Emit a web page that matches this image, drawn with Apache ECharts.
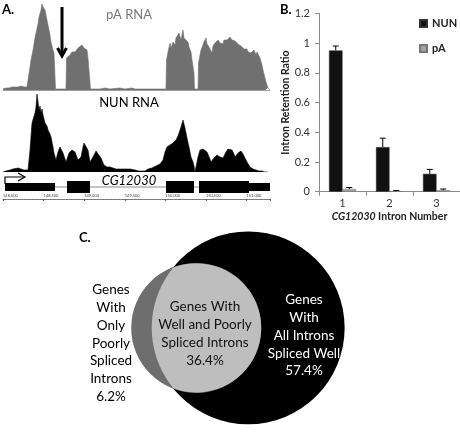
<!DOCTYPE html>
<html><head><meta charset="utf-8">
<script src="https://cdn.jsdelivr.net/npm/echarts@6/dist/echarts.min.js"></script>
<style>html,body{margin:0;padding:0;background:#fff}#c{width:460px;height:433px}</style>
</head><body><div id="c"></div>
<script>
// ---------- Panel A: read coverage (position along locus, read depth) ----------
const pACoverage = [[3,1],[6,2],[9,2],[12,3],[15,3],[18,3],[21,4],[24,3],[27,3],[29,3],[30,23],[31,30],[33,40],[35,52],[36,57],[38,66],[39,73],[41,80],[42,86],[43,83],[45,80],[47,70],[48,65],[50,55],[51,48],[53,40],[54,37],[55,36],[55.5,1],[60,1],[66,1],[66.5,32],[68,30],[70,35],[72,38],[73,40],[75,38],[76,40],[78,42],[79,43],[80,40],[82,45],[84,42],[85,43],[87,40],[88,32],[90,30],[90.5,1],[100,1],[105,2],[110,1],[120,2],[125,1],[132,2],[135,1],[160,1],[166,1],[166.5,30],[168,38],[170,47],[171,42],[173,48],[175,45],[176,52],[178,50],[179,57],[181,50],[183,60],[184,52],[186,50],[188,48],[189,43],[191,38],[192,30],[194,17],[194.5,1],[198,1],[198.5,27],[200,35],[201,40],[203,45],[204,48],[206,52],[207,46],[209,43],[210,45],[212,37],[213,44],[215,47],[217,45],[218,50],[220,47],[221,48],[223,46],[224,50],[226,48],[227,50],[229,49],[230,53],[232,50],[233,48],[235,49],[236,47],[238,46],[239,45],[241,44],[242,43],[244,41],[245,40],[247,41],[248,38],[250,39],[251,37],[253,38],[254,40],[256,35],[257,38],[259,36],[260,32],[262,25],[263,20],[265,12],[266,8],[268,2],[270,0]];
const nunCoverage = [[3,0],[6,1],[10,2],[13,3],[15,4],[18,4],[21,3],[24,2],[28,2],[29,3],[30,22],[32,49],[34,50],[35,59],[36,65],[37,78],[38,70],[39,62],[40,66],[41,59],[42,63],[43,57],[44,55],[45,49],[47,46],[48,42],[50,38],[51,35],[53,25],[54,19],[56,12],[58,20],[60,25],[61,24],[63,19],[66,10],[69,19],[70,21],[72,22],[75,20],[78,12],[81,15],[83,25],[84,29],[86,30],[88,22],[90,10],[93,15],[96,21],[98,20],[101,14],[104,7],[107,5],[110,5],[113,4],[116,3],[120,3],[125,3],[130,3],[135,2],[139,1],[141,0],[145,1],[148,3],[152,4],[156,6],[160,8],[163,12],[165,20],[167,25],[170,27],[173,29],[176,32],[178,36],[179,39],[181,45],[183,52],[184,48],[185,44],[187,34],[189,25],[191,15],[193,10],[194,6],[195,0],[196,2],[198,15],[200,22],[202,24],[203,23],[205,22],[207,20],[208,19],[210,13],[211,10],[214,14],[217,17],[220,15],[223,14],[226,20],[228,23],[229,24],[230,22],[232,22],[234,18],[235,15],[238,19],[240,21],[241,21],[243,18],[244,17],[247,10],[250,5],[253,3],[256,2],[259,1],[262,1],[265,0],[268,0]];
const trackNames = ['pA RNA', 'NUN RNA'];
const geneName = 'CG12030';
const exonStart = [5, 67, 166, 199, 249];
const exonEnd   = [55, 90, 194, 249, 270];
const exonKind  = ['utr', 'cds', 'cds', 'cds', 'utr'];
const geneSpan  = [5, 270];
const rulerRange = [148000, 151289];
const rulerStep = 500;

// ---------- Panel B ----------
const intronNumbers = ['1', '2', '3'];
const nunRatio = [0.95, 0.30, 0.12];
const nunErr   = [0.03, 0.06, 0.03];
const paRatio  = [0.018, 0.004, 0.01];
const paErr    = [0.01, 0.004, 0.008];
const seriesNames = ['NUN', 'pA'];

// ---------- Panel C ----------
const vennPercent = [6.2, 36.4, 57.4]; // only poorly, both, all well
const vennText = [
  'Genes\nWith\nOnly\nPoorly\nSpliced\nIntrons\n6.2%',
  'Genes With\nWell and Poorly\nSpliced Introns\n36.4%',
  'Genes\nWith\nAll Introns\nSpliced Well\n57.4%'
];

// ---- venn geometry (area proportional) ----
const rBig = Math.sqrt((vennPercent[1] + vennPercent[2]) / Math.PI);
const rSmall = Math.sqrt((vennPercent[0] + vennPercent[1]) / Math.PI);
function lensArea(d, R, r) {
  if (d >= R + r) return 0;
  if (d <= Math.abs(R - r)) return Math.PI * Math.min(R, r) ** 2;
  const a = r * r * Math.acos((d * d + r * r - R * R) / (2 * d * r));
  const b = R * R * Math.acos((d * d + R * R - r * r) / (2 * d * R));
  const c = 0.5 * Math.sqrt((-d + r + R) * (d + r - R) * (d - r + R) * (d + r + R));
  return a + b - c;
}
let lo = Math.abs(rBig - rSmall), hi = rBig + rSmall;
for (let k = 0; k < 60; k++) {
  const m = (lo + hi) / 2;
  if (lensArea(m, rBig, rSmall) > vennPercent[1]) lo = m; else hi = m;
}
const dist = (lo + hi) / 2;
const smallCx = -dist;
const xi = (dist * dist + rBig * rBig - rSmall * rSmall) / (2 * dist);
const thB = Math.acos(xi / rBig);
const thS = Math.acos((dist - xi) / rSmall);
function lensPoints() {
  const pts = [];
  const n = 60;
  for (let k = 0; k <= n; k++) {
    const a = -thS + 2 * thS * k / n;
    pts.push([smallCx + rSmall * Math.cos(a), rSmall * Math.sin(a)]);
  }
  for (let k = 0; k <= n; k++) {
    const a = Math.PI - thB + 2 * thB * k / n;
    pts.push([rBig * Math.cos(a), rBig * Math.sin(a)]);
  }
  return pts;
}

const FONT = 'Lato, "Noto Sans", sans-serif';
const chart = echarts.init(document.getElementById('c'), null, { renderer: 'canvas' });

const hiddenVal = (i, min, max) => ({ type: 'value', gridIndex: i, min, max, show: false });

const option = {
  animation: false,
  textStyle: { fontFamily: FONT },
  legend: {
    data: seriesNames, orient: 'vertical', left: 414, top: 13, itemWidth: 7, itemHeight: 7, itemGap: 14,
    icon: 'rect', textStyle: { fontSize: 11, fontWeight: 'bold', color: '#222', fontFamily: FONT }
  },
  grid: [
    { left: 3, top: 4, width: 267, height: 86 },
    { left: 3, top: 94, width: 267, height: 78 },
    { left: 3, top: 176, width: 267, height: 20 },
    { left: -42.5, top: 196, width: 312.5, height: 3 },
    { left: 319, top: 13.3, width: 141, height: 178.4 },
    { left: 1.1, top: 222.8, width: 468.8, height: 216.4 }
  ],
  xAxis: [
    { type: 'value', gridIndex: 0, min: 3, max: 270, axisLine: { show: true, lineStyle: { color: '#a0a0a0', width: 1 } }, axisTick: { show: false }, axisLabel: { show: false }, splitLine: { show: false } },
    hiddenVal(1, 3, 270),
    hiddenVal(2, 3, 270),
    { type: 'value', gridIndex: 3, min: rulerRange[0], max: rulerRange[1], interval: rulerStep,
      axisLine: { show: true, lineStyle: { color: '#777', width: 1 } },
      axisTick: { show: true, length: 2, lineStyle: { color: '#555' } },
      minorTick: { show: true, splitNumber: 10, length: 1, lineStyle: { color: '#888' } },
      axisLabel: { show: true, inside: true, fontSize: 4, color: '#444', margin: 1, align: 'left', showMaxLabel: false,
        formatter: v => v.toLocaleString('en-US') },
      splitLine: { show: false } },
    { type: 'category', gridIndex: 4, data: intronNumbers,
      name: '{i|' + geneName + '} Intron Number', nameLocation: 'middle', nameGap: 19,
      nameTextStyle: { fontSize: 10.5, fontWeight: 'bold', color: '#222', fontFamily: FONT,
        rich: { i: { fontStyle: 'italic', fontWeight: 'bold', fontSize: 10.5, color: '#222', fontFamily: FONT } } },
      axisLine: { lineStyle: { color: '#8a8a8a' } }, axisTick: { show: true, length: 4, lineStyle: { color: '#8a8a8a' } },
      axisLabel: { fontSize: 11, color: '#333', margin: 6 } },
    hiddenVal(5, -14, 12)
  ],
  yAxis: [
    hiddenVal(0, 0, 86),
    hiddenVal(1, 0, 78),
    hiddenVal(2, 0, 1),
    hiddenVal(3, 0, 1),
    { type: 'value', gridIndex: 4, min: 0, max: 1.2, interval: 0.2,
      name: 'Intron Retention Ratio', nameLocation: 'middle', nameGap: 27, nameRotate: 90,
      nameTextStyle: { fontSize: 10.5, fontWeight: 'bold', color: '#222', fontFamily: FONT },
      axisLine: { show: true, lineStyle: { color: '#8a8a8a' } }, axisTick: { show: true, length: 4, lineStyle: { color: '#8a8a8a' } },
      axisLabel: { fontSize: 11, color: '#333', margin: 9 }, splitLine: { show: false } },
    hiddenVal(5, -6, 6)
  ],
  series: [
    { type: 'line', xAxisIndex: 0, yAxisIndex: 0, data: pACoverage, symbol: 'none',
      lineStyle: { width: 0.6, color: '#707070' }, areaStyle: { color: '#707070', opacity: 1 } },
    { type: 'line', xAxisIndex: 1, yAxisIndex: 1, data: nunCoverage, symbol: 'none',
      lineStyle: { width: 0.6, color: '#000' }, areaStyle: { color: '#000', opacity: 1 } },
    { type: 'custom', xAxisIndex: 2, yAxisIndex: 2, data: [geneSpan],
      renderItem: (p, api) => {
        const a = api.coord([api.value(0), 0.5]);
        const b = api.coord([api.value(1), 0.5]);
        const y = a[1] + 1;
        const top = a[1] - 9;
        return { type: 'group', children: [
          { type: 'line', shape: { x1: a[0], y1: y, x2: b[0], y2: y }, style: { stroke: '#8c8c8c', lineWidth: 1 } },
          { type: 'polyline', shape: { points: [[a[0], y - 3], [a[0], top], [a[0] + 19, top]] }, style: { stroke: '#000', lineWidth: 1.2, fill: null } },
          { type: 'polyline', shape: { points: [[a[0] + 13, top - 4], [a[0] + 20, top], [a[0] + 13, top + 4]] }, style: { stroke: '#000', lineWidth: 1.2, fill: null } }
        ] };
      } },
    { type: 'custom', xAxisIndex: 2, yAxisIndex: 2,
      data: exonStart.map((s, i) => [s, exonEnd[i], exonKind[i] === 'cds' ? 1 : 0]),
      renderItem: (p, api) => {
        const a = api.coord([api.value(0), 0.5]);
        const b = api.coord([api.value(1), 0.5]);
        const h = api.value(2) ? 12 : 8;
        return { type: 'rect', shape: { x: a[0], y: a[1] + 1 - h / 2, width: b[0] - a[0], height: h }, style: { fill: '#000' } };
      } },
    { type: 'scatter', xAxisIndex: 3, yAxisIndex: 3, data: [], silent: true },
    { name: seriesNames[0], type: 'bar', xAxisIndex: 4, yAxisIndex: 4, data: nunRatio, barWidth: 13.5, barGap: '0%',
      itemStyle: { color: '#111', borderColor: '#333', borderWidth: 0.5 } },
    { name: seriesNames[1], type: 'bar', xAxisIndex: 4, yAxisIndex: 4, data: paRatio, barWidth: 13.5,
      itemStyle: { color: '#a3a3a3', borderColor: '#777', borderWidth: 0.5 } },
    ...[[nunRatio, nunErr, -6.75], [paRatio, paErr, 6.75]].map(([v, e, off]) => ({
      type: 'custom', xAxisIndex: 4, yAxisIndex: 4, z: 5,
      data: v.map((val, i) => [i, val, val + e[i]]),
      renderItem: (p, api) => {
        const a = api.coord([api.value(0), api.value(1)]);
        const b = api.coord([api.value(0), api.value(2)]);
        const x = a[0] + off;
        return { type: 'group', children: [
          { type: 'line', shape: { x1: x, y1: a[1], x2: x, y2: b[1] }, style: { stroke: '#000', lineWidth: 1 } },
          { type: 'line', shape: { x1: x - 3, y1: b[1], x2: x + 3, y2: b[1] }, style: { stroke: '#000', lineWidth: 1 } }
        ] };
      }
    })),
    { type: 'custom', xAxisIndex: 5, yAxisIndex: 5, z: 1, data: [[0], [1], [2]],
      renderItem: (p, api) => {
        const i = p.dataIndex;
        const s = api.size([1, 1]);
        if (i === 0) { const c = api.coord([0, 0]); return { type: 'circle', shape: { cx: c[0], cy: c[1], r: rBig * s[0] }, style: { fill: '#000' } }; }
        if (i === 1) { const c = api.coord([smallCx, 0]); return { type: 'circle', shape: { cx: c[0], cy: c[1], r: rSmall * s[0] }, style: { fill: '#6e6e6e' } }; }
        return { type: 'polygon', shape: { points: lensPoints().map(q => api.coord(q)) }, style: { fill: '#bebebe' } };
      } }
  ],
  graphic: [
    { type: 'text', z: 100, x: 2, y: 3, style: { text: 'A.', font: 'bold 13px ' + FONT, fill: '#000' } },
    { type: 'text', z: 100, x: 280, y: 3, style: { text: 'B.', font: 'bold 13px ' + FONT, fill: '#000' } },
    { type: 'text', z: 100, x: 79, y: 231, style: { text: 'C.', font: 'bold 13px ' + FONT, fill: '#000' } },
    { type: 'text', z: 100, x: 129, y: 15, style: { text: trackNames[0], font: '13px ' + FONT, fill: '#7a7a7a', align: 'center', verticalAlign: 'middle' } },
    { type: 'text', z: 100, x: 129, y: 103, style: { text: trackNames[1], font: '13px ' + FONT, fill: '#000', align: 'center', verticalAlign: 'middle' } },
    { type: 'text', z: 100, x: 129, y: 181, style: { text: geneName, font: 'italic 13px ' + FONT, fill: '#000', align: 'center', verticalAlign: 'middle' } },
    { type: 'line', z: 100, shape: { x1: 62, y1: 7, x2: 62, y2: 55 }, style: { stroke: '#000', lineWidth: 3 } },
    { type: 'polyline', z: 100, shape: { points: [[57.5, 48], [62, 56], [66.5, 48]] }, style: { stroke: '#000', lineWidth: 3, fill: null } },
    { type: 'text', z: 100, x: 111, y: 281, style: { text: vennText[0], font: '13.5px ' + FONT, fill: '#000', align: 'center', verticalAlign: 'top', lineHeight: 17.8 } },
    { type: 'text', z: 100, x: 205, y: 298, style: { text: vennText[1], font: '13.5px ' + FONT, fill: '#111', align: 'center', verticalAlign: 'top', lineHeight: 17.8 } },
    { type: 'text', z: 100, x: 304, y: 291, style: { text: vennText[2], font: '13.5px ' + FONT, fill: '#fff', align: 'center', verticalAlign: 'top', lineHeight: 17.8 } }
  ]
};
chart.setOption(option);
</script>
</body></html>
